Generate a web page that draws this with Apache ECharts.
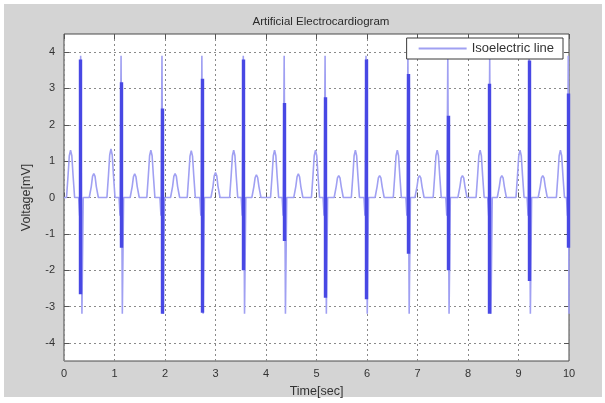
<!DOCTYPE html>
<html>
<head>
<meta charset="utf-8">
<script src="https://cdn.jsdelivr.net/npm/echarts@6/dist/echarts.min.js"></script>
<style>
html,body{margin:0;padding:0;background:#fff;}
#chart{width:605px;height:403px;}
</style>
</head>
<body>
<div id="chart"></div>
<script>
// ---- data ----
var chartTitle = 'Artificial Electrocardiogram';
var seriesName = 'Isoelectric line';
var xTicks = [0,1,2,3,4,5,6,7,8,9,10];
var yTicks = [-4,-3,-2,-1,0,1,2,3,4];

// light trace: time (s) of its key points, one row per beat (P wave, QRS, T wave)
var ecgTime = [
  0,
  0.05,0.08,0.105,0.13,0.155,0.18,0.21, 0.29,0.31,0.33,0.355,0.38, 0.50,0.54,0.565,0.59,0.615,0.64,0.68,
  0.85,0.88,0.905,0.93,0.955,0.98,1.01, 1.09,1.11,1.13,1.155,1.18, 1.31,1.35,1.375,1.40,1.425,1.45,1.49,
  1.64,1.67,1.695,1.72,1.745,1.77,1.80, 1.90,1.92,1.94,1.965,1.99, 2.11,2.15,2.175,2.20,2.225,2.25,2.29,
  2.44,2.47,2.495,2.52,2.545,2.57,2.60, 2.69,2.71,2.73,2.755,2.78, 2.91,2.95,2.975,3.00,3.025,3.05,3.09,
  3.28,3.31,3.335,3.36,3.385,3.41,3.44, 3.51,3.53,3.55,3.575,3.60, 3.72,3.76,3.785,3.81,3.835,3.86,3.90,
  4.09,4.12,4.145,4.17,4.195,4.22,4.25, 4.32,4.34,4.36,4.385,4.41, 4.55,4.59,4.615,4.64,4.665,4.69,4.73,
  4.90,4.93,4.955,4.98,5.005,5.03,5.06, 5.13,5.15,5.17,5.195,5.22, 5.35,5.39,5.415,5.44,5.465,5.49,5.53,
  5.69,5.72,5.745,5.77,5.795,5.82,5.85, 5.94,5.96,5.98,6.005,6.03, 6.16,6.20,6.225,6.25,6.275,6.30,6.34,
  6.52,6.55,6.575,6.60,6.625,6.65,6.68, 6.77,6.79,6.81,6.835,6.86, 6.95,6.99,7.015,7.04,7.065,7.09,7.13,
  7.31,7.34,7.365,7.39,7.415,7.44,7.47, 7.56,7.58,7.60,7.625,7.65, 7.80,7.84,7.865,7.89,7.915,7.94,7.98,
  8.16,8.19,8.215,8.24,8.265,8.29,8.32, 8.39,8.41,8.43,8.455,8.48, 8.58,8.62,8.645,8.67,8.695,8.72,8.76,
  8.95,8.98,9.005,9.03,9.055,9.08,9.11, 9.17,9.19,9.21,9.235,9.26, 9.39,9.43,9.455,9.48,9.505,9.53,9.57,
  9.75,9.78,9.805,9.83,9.855,9.88,9.91, 9.95,9.97,9.985,10.0
];
// light trace: voltage (mV) at those points
var ecgVolt = [
  0,
  0,0.6,1.15,1.3,1.15,0.6,0, 0,-0.5,3.9,-3.2,0, 0,0.3,0.58,0.66,0.58,0.3,0,
  0,0.6,1.17,1.34,1.17,0.6,0, 0,-0.5,3.9,-3.2,0, 0,0.3,0.57,0.65,0.57,0.3,0,
  0,0.6,1.15,1.3,1.15,0.6,0, 0,-0.5,3.9,-3.2,0, 0,0.3,0.58,0.66,0.58,0.3,0,
  0,0.6,1.14,1.29,1.14,0.6,0, 0,-0.5,3.9,-3.2,0, 0,0.3,0.6,0.69,0.6,0.3,0,
  0,0.6,1.15,1.3,1.15,0.6,0, 0,-0.5,3.9,-3.2,0, 0,0.3,0.55,0.62,0.55,0.3,0,
  0,0.6,1.15,1.3,1.15,0.6,0, 0,-0.5,3.9,-3.2,0, 0,0.3,0.57,0.65,0.57,0.3,0,
  0,0.6,1.15,1.3,1.15,0.6,0, 0,-0.5,3.9,-3.2,0, 0,0.3,0.54,0.6,0.54,0.3,0,
  0,0.6,1.15,1.3,1.15,0.6,0, 0,-0.5,3.9,-3.2,0, 0,0.3,0.54,0.6,0.54,0.3,0,
  0,0.6,1.15,1.3,1.15,0.6,0, 0,-0.5,3.9,-3.2,0, 0,0.3,0.54,0.6,0.54,0.3,0,
  0,0.6,1.15,1.3,1.15,0.6,0, 0,-0.5,3.9,-3.2,0, 0,0.3,0.54,0.6,0.54,0.3,0,
  0,0.6,1.15,1.3,1.15,0.6,0, 0,-0.5,3.9,-3.2,0, 0,0.3,0.54,0.6,0.54,0.3,0,
  0,0.6,1.15,1.3,1.15,0.6,0, 0,-0.5,3.9,-3.2,0, 0,0.3,0.54,0.6,0.54,0.3,0,
  0,0.6,1.15,1.3,1.15,0.6,0, 0,-0.5,3.9,-3.2
];

// dark QRS strokes: time of R wave, top and bottom of the dark stroke
var rTimes      = [0.33,1.13,1.94,2.73,3.55,4.36,5.17,5.98,6.81,7.60,8.43,9.21,9.99];
var darkTops    = [3.8,3.17,2.45,3.27,3.8,2.6,2.76,3.8,3.4,2.25,3.13,3.77,2.86];
var darkBottoms = [-2.66,-1.38,-3.2,-3.17,-2.0,-1.2,-2.76,-2.8,-1.55,-2.0,-3.2,-2.3,-1.38];

// ---- chart ----
var chart = echarts.init(document.getElementById('chart'), null, {renderer:'canvas'});
var FONT = 'Liberation Sans, Arial, sans-serif';
var ecgData = ecgTime.map(function(t,i){ return [t, ecgVolt[i]]; });
var darkData = rTimes.map(function(t,i){ return {coords:[[t,darkTops[i]],[t,darkBottoms[i]]]}; });
var gridLine = {show:true, lineStyle:{color:'#8a8a8a', width:1, type:[2,3]}};
var tickStyle = {show:true, inside:true, length:5, lineStyle:{color:'#555'}};

var option = {
  animation:false,
  backgroundColor:'#ffffff',
  graphic:[{type:'rect', z:-10, shape:{x:4,y:4,width:598,height:393}, style:{fill:'#d4d4d4'}}],
  title:{text:chartTitle, left:316, top:11, textAlign:'center',
    textStyle:{fontFamily:FONT, fontSize:11.5, fontWeight:'normal', color:'#2a2a2a'}},
  legend:{
    data:[{name:seriesName, icon:'rect'}],
    right:42, top:38, orient:'horizontal',
    backgroundColor:'#ffffff', borderColor:'#3a3a3a', borderWidth:1, borderRadius:0,
    padding:[4,9,4,12], itemWidth:48, itemHeight:2, itemGap:10,
    textStyle:{fontFamily:FONT, fontSize:13, color:'#333'}
  },
  grid:[
    {left:64, right:36, top:34, bottom:42, show:true, backgroundColor:'#ffffff', borderColor:'#4a4a4a', borderWidth:1, z:0},
    {left:64, right:36, top:52.1, bottom:60.1, show:false}
  ],
  xAxis:[
    {gridIndex:0, type:'value', min:0, max:10, interval:1, position:'bottom', z:1,
     axisLine:{show:false}, axisTick:tickStyle,
     axisLabel:{fontFamily:FONT, fontSize:11, color:'#333', margin:7,
       formatter:function(v){ return xTicks.indexOf(v) >= 0 ? String(v) : ''; }},
     splitLine:gridLine,
     name:'Time[sec]', nameLocation:'middle', nameGap:24,
     nameTextStyle:{fontFamily:FONT, fontSize:12.5, color:'#333'}},
    {gridIndex:0, type:'value', min:0, max:10, interval:1, position:'top', z:1,
     axisLine:{show:false}, axisTick:tickStyle,
     axisLabel:{show:false}, splitLine:{show:false}},
    {gridIndex:1, type:'value', min:0, max:10, show:false}
  ],
  yAxis:[
    {gridIndex:0, type:'value', min:-4.5, max:4.5, show:false},
    {gridIndex:1, type:'value', min:-4, max:4, interval:1, position:'left', z:1,
     axisLine:{show:false}, axisTick:tickStyle,
     axisLabel:{fontFamily:FONT, fontSize:11, color:'#333', margin:9,
       formatter:function(v){ return yTicks.indexOf(v) >= 0 ? String(v) : ''; }},
     splitLine:gridLine,
     name:'Voltage[mV]', nameLocation:'middle', nameGap:31,
     nameTextStyle:{fontFamily:FONT, fontSize:12.5, color:'#333'}},
    {gridIndex:1, type:'value', min:-4, max:4, interval:1, position:'right', z:1,
     axisLine:{show:false}, axisTick:tickStyle,
     axisLabel:{show:false}, splitLine:{show:false}}
  ],
  series:[
    {name:seriesName, type:'line', xAxisIndex:0, yAxisIndex:0, data:ecgData,
     showSymbol:false, symbol:'none', z:3,
     lineStyle:{color:'#a0a0f2', width:1.6}, itemStyle:{color:'#a0a0f2'}},
    {name:'QRS', type:'lines', coordinateSystem:'cartesian2d', xAxisIndex:0, yAxisIndex:0,
     data:darkData, z:4, silent:true,
     lineStyle:{color:'#4848e4', width:3.4, opacity:1}}
  ]
};
chart.setOption(option);
</script>
</body>
</html>
